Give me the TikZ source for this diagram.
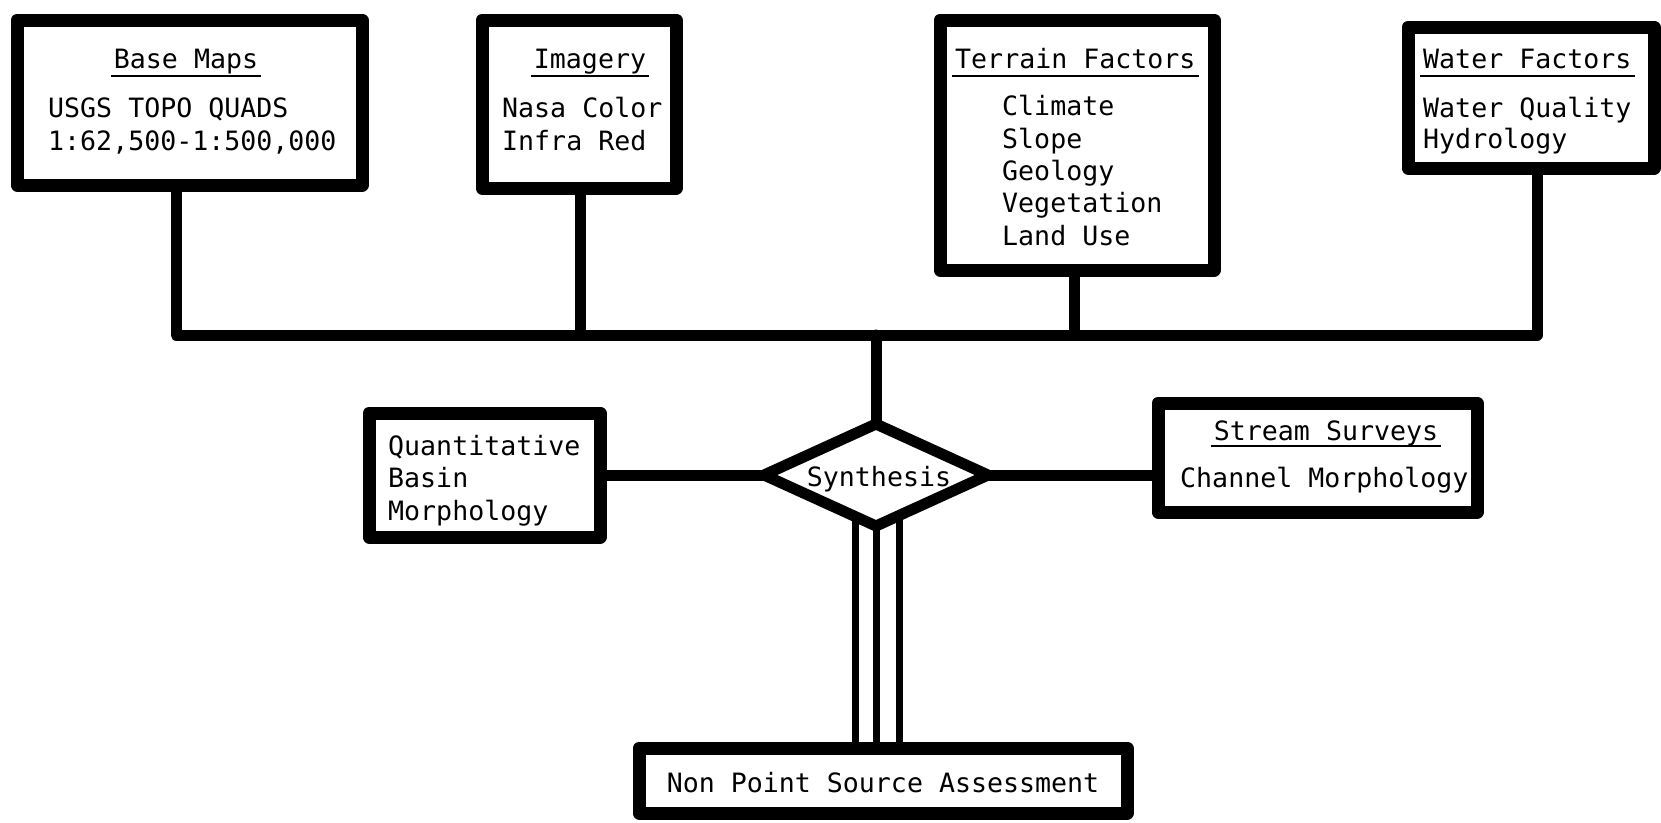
\documentclass[tikz,border=0pt]{standalone}
\usepackage{fontspec}
\newfontfamily\typew{DejaVu Sans Mono}
\usetikzlibrary{shapes.geometric,calc}
\begin{document}
\begin{tikzpicture}[x=1pt,y=-1pt,
  box/.style={draw, line width=13pt, rectangle, inner sep=0pt, line join=round},
  conn/.style={line width=11pt, line join=round, line cap=round},
  pipe/.style={line width=7pt},
  lbl/.style={inner sep=0pt, font=\typew\fontsize{26.6}{32}\selectfont},
  uline/.style={line width=2.5pt}]
\useasboundingbox[fill=white] (0,0) rectangle (1661,822);

% boxes
\node[box, minimum width=345pt, minimum height=165pt] (base) at (189.5,102.5) {};
\node[box, minimum width=194pt, minimum height=168pt] (img) at (579,104) {};
\node[box, minimum width=274pt, minimum height=250pt] (ter) at (1077,145) {};
\node[box, minimum width=246pt, minimum height=141pt] (wat) at (1531,97.5) {};
\node[box, minimum width=231pt, minimum height=124pt] (quant) at (484.5,475) {};
\node[box, minimum width=319pt, minimum height=109pt] (stream) at (1317.5,457.5) {};
\node[box, minimum width=488pt, minimum height=65pt] (nps) at (883,780.5) {};
\node[draw, diamond, line width=11pt, line join=round, inner sep=0pt, outer sep=0pt,
      aspect=2.2, minimum width=224pt, minimum height=102pt] (syn) at (876,475) {};
\node[lbl, anchor=base] (syntxt) at (879,486) {Synthesis};

% header texts
\node[lbl, anchor=base] (hbase) at (186,68) {Base Maps};
\node[lbl, anchor=base] (himg) at (590,68) {Imagery};
\node[lbl, anchor=base west] (hter) at (955,68) {Terrain Factors};
\node[lbl, anchor=base west] (hwat) at (1423,68) {Water Factors};
\node[lbl, anchor=base] (hstr) at (1326,440) {Stream Surveys};
\foreach \h in {hbase,himg,hter,hwat}
  \draw[uline] ($(\h.base west)+(-3,8)$) -- ($(\h.base east)+(3,8)$);
\draw[uline] ($(hstr.base west)+(-3,6)$) -- ($(hstr.base east)+(3,6)$);

% body texts
\node[lbl, anchor=base west] (b1) at (48,117) {USGS TOPO QUADS};
\node[lbl, anchor=base west] (b2) at (48,150) {1:62,500-1:500,000};
\node[lbl, anchor=base west] (i1) at (502,117) {Nasa Color};
\node[lbl, anchor=base west] (i2) at (502,150) {Infra Red};
\node[lbl, anchor=base west] (t1) at (1002,115) {Climate};
\node[lbl, anchor=base west] (t2) at (1002,148) {Slope};
\node[lbl, anchor=base west] (t3) at (1002,180) {Geology};
\node[lbl, anchor=base west] (t4) at (1002,212) {Vegetation};
\node[lbl, anchor=base west] (t5) at (1002,245) {Land Use};
\node[lbl, anchor=base west] (w1) at (1423,117) {Water Quality};
\node[lbl, anchor=base west] (w2) at (1423,148) {Hydrology};
\node[lbl, anchor=base west] (q1) at (388,455) {Quantitative};
\node[lbl, anchor=base west] (q2) at (388,487) {Basin};
\node[lbl, anchor=base west] (q3) at (388,520) {Morphology};
\node[lbl, anchor=base west] (s1) at (1180,487) {Channel Morphology};
\node[lbl, anchor=base] (n1) at (883,792) {Non Point Source Assessment};

% bus
\coordinate (j1) at (176,335);
\coordinate (j2) at (580,335);
\coordinate (j3) at (1074,335);
\coordinate (j4) at (1537,335);
\coordinate (j5) at (syn.north |- j1);
\draw[conn] (base.south -| j1) -- (j1) -- (j4) -- (wat.south -| j4);
\draw[conn] (img.south -| j2) -- (j2);
\draw[conn] (ter.south -| j3) -- (j3);
\draw[conn] (j5) -- (syn.north);

% side connectors
\draw[conn] (quant.east) -- (syn.west);
\draw[conn] (syn.east) -- (syn.east -| stream.west);

% triple pipe
\coordinate (p1) at ($(syn.south)+(-21,-9)$);
\coordinate (p2) at (syn.south);
\coordinate (p3) at ($(syn.south)+(23,-10)$);
\foreach \p in {p1,p2,p3}
  \draw[pipe] (\p) -- (\p |- nps.north);
\end{tikzpicture}
\end{document}
